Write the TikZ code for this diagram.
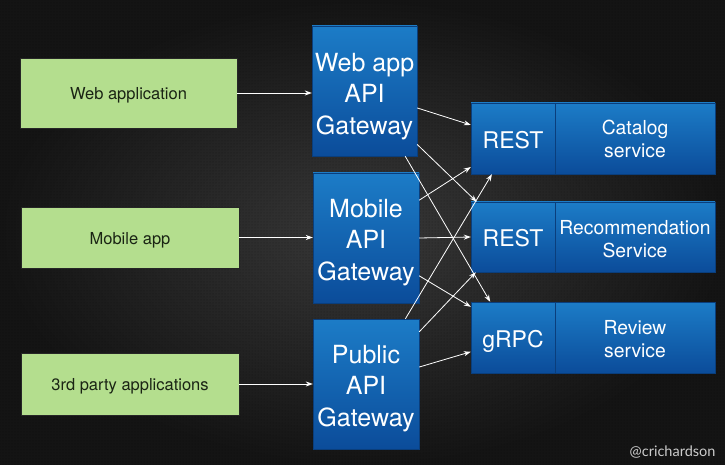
\documentclass[tikz,border=0pt]{standalone}
\usepackage{fontspec}
\setmainfont{TeX Gyre Heros}
\newfontfamily\sigfont{Lato}
\usetikzlibrary{arrows.meta,calc,patterns}
\definecolor{bgmid}{HTML}{383838}
\definecolor{bgedge}{HTML}{141414}
\definecolor{appgreen}{HTML}{B4DE8E}
\definecolor{apptext}{HTML}{1A2414}
\definecolor{bluetop}{HTML}{1C7CC7}
\definecolor{bluebot}{HTML}{0B4C9A}
\definecolor{blueline}{HTML}{0A3E7C}
\newcommand{\upstrut}[1]{\rule{0pt}{#1}}
\tikzset{
  app/.style={draw=black!85, line width=0.7pt, fill=appgreen, text=apptext,
    minimum width=218pt, inner sep=0pt, font=\fontsize{16.5}{19}\selectfont},
  gw/.style={draw=blueline, line width=0.4pt, top color=bluetop, bottom color=bluebot,
    text=white, align=center, inner sep=0pt, minimum height=130pt,
    font=\fontsize{25}{31.5}\selectfont},
  proto/.style={draw=blueline, line width=0.4pt, top color=bluetop, bottom color=bluebot,
    text=white, inner sep=0pt, minimum width=84pt, minimum height=71pt,
    font=\fontsize{23}{27}\selectfont},
  svc/.style={draw=blueline, line width=0.4pt, top color=bluetop, bottom color=bluebot,
    text=white, align=center, inner sep=0pt, minimum width=160pt, minimum height=71pt,
    font=\fontsize{19.3}{23}\selectfont},
  flow/.style={draw=white, line width=0.8pt, -{Stealth[length=7pt,width=5pt]}}
}
\begin{document}
\begin{tikzpicture}[x=1pt,y=-1pt]
\useasboundingbox (0,0) rectangle (725,465);
\fill[inner color=bgmid, outer color=bgedge] (0,0) rectangle (725,465);
\fill[pattern=dots, pattern color=black, opacity=0.35] (0,0) rectangle (725,465);

% client applications
\node[app, minimum width=217pt, minimum height=70pt] (wa) at (128.5,93) {\upstrut{17.5pt}Web application};
\node[app, minimum height=61pt] (ma) at (130,237.5) {\upstrut{17.5pt}Mobile app};
\node[app, minimum height=62pt] (tp) at (130,384) {\upstrut{17.5pt}3rd party applications};

% gateways
\node[gw, minimum width=105pt] (wg) at (364.5,91) {\upstrut{29pt}Web app\\API\\Gateway};
\node[gw, minimum width=106pt] (mg) at (366,238) {\upstrut{27pt}Mobile\\API\\Gateway};
\node[gw, minimum width=106pt] (pg) at (366,384) {\upstrut{27pt}Public\\API\\Gateway};

% services
\node[proto] (cr) at (513,138.5) {\upstrut{20pt}REST};
\node[svc] (cs) at (635,138.5) {\upstrut{16pt}Catalog\\service};
\node[proto, minimum height=70pt] (rr) at (513,237) {\upstrut{20pt}REST};
\node[svc, minimum height=70pt] (rs) at (635,237) {\upstrut{18pt}Recommendation\\Service};
\node[proto] (gr) at (513,337.5) {\upstrut{25pt}gRPC};
\node[svc] (gs) at (635,337.5) {\upstrut{17pt}Review\\service};

% client -> gateway
\draw[flow] (wa.east) -- (wa.east -| wg.west);
\draw[flow] (ma.east) -- (ma.east -| mg.west);
\draw[flow] (tp.east) -- (tp.east -| pg.west);

% web gateway
\draw[flow] ($(wg.north east)!0.63!(wg.south east)$) -- ($(cr.north west)!0.31!(cr.south west)$);
\draw[flow] ($(wg.north east)!0.91!(wg.south east)$) -- ($(rr.north west)!0.07!(rr.north east)$);
\draw[flow] ($(wg.south west)!0.886!(wg.south east)$) -- ($(gr.north west)!0.23!(gr.north east)$);

% mobile gateway
\draw[flow] ($(mg.north east)!0.21!(mg.south east)$) -- ($(cr.north west)!0.9!(cr.south west)$);
\draw[flow] (mg.east) -- (rr.west);
\draw[flow] ($(mg.north east)!0.79!(mg.south east)$) -- ($(gr.north west)!0.07!(gr.south west)$);

% public gateway
\draw[flow] ($(pg.north west)!0.87!(pg.north east)$) -- ($(cr.south west)!0.25!(cr.south east)$);
\draw[flow] ($(pg.north east)!0.1!(pg.south east)$) -- ($(rr.south west)!0.06!(rr.south east)$);
\draw[flow] ($(pg.north east)!0.37!(pg.south east)$) -- ($(gr.north west)!0.7!(gr.south west)$);

\node[text=black!20, font=\sigfont\fontsize{14.5}{16}\selectfont, anchor=east] (sig) at (719,452) {@crichardson};
\end{tikzpicture}
\end{document}
